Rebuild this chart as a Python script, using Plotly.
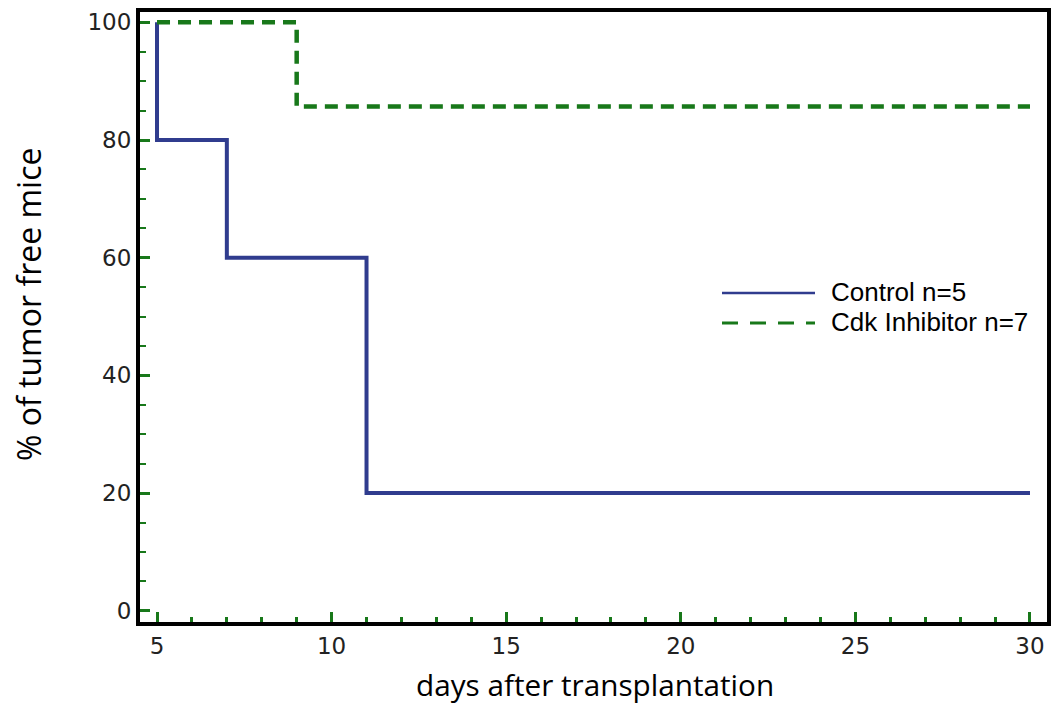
import plotly.graph_objects as go

# Data
control_days = [5, 5, 7, 11, 30]
control_pct = [100, 80, 60, 20, 20]
cdk_days = [5, 9, 30]
cdk_pct = [100, 85.7, 85.7]
series_names = ["Control n=5", "Cdk Inhibitor n=7"]
x_ticks = [5, 10, 15, 20, 25, 30]
y_ticks = [0, 20, 40, 60, 80, 100]

BLUE = "#303c8e"
GREEN = "#18781a"

fig = go.Figure()
fig.add_trace(go.Scatter(x=control_days, y=control_pct, mode="lines", line_shape="hv",
                         line=dict(color=BLUE, width=4), name=series_names[0], showlegend=False))
fig.add_trace(go.Scatter(x=cdk_days, y=cdk_pct, mode="lines", line_shape="hv",
                         line=dict(color=GREEN, width=4.5, dash="13px,8px"), name=series_names[1], showlegend=False))

L, R, T, B = 140, 8, 12, 82
W, H = 1055, 704
pw, ph = W - L - R, H - T - B

def px_x(p):
    return (p - L) / pw

def px_y(p):
    return (H - B - p) / ph

# manual legend
fig.add_shape(type="line", xref="paper", yref="paper", x0=px_x(722), x1=px_x(815), y0=px_y(293), y1=px_y(293),
              line=dict(color=BLUE, width=2.5))
fig.add_shape(type="line", xref="paper", yref="paper", x0=px_x(722), x1=px_x(815), y0=px_y(323), y1=px_y(323),
              line=dict(color=GREEN, width=3, dash="16px,12px"))
for name, py in zip(series_names, [292, 322]):
    fig.add_annotation(xref="paper", yref="paper", x=px_x(829), y=px_y(py), text=name, showarrow=False,
                       xanchor="left", yanchor="middle",
                       font=dict(family="Liberation Sans, Arial", size=26, color="black"))

# axis titles
fig.add_annotation(xref="paper", yref="paper", x=px_x(595), y=px_y(684), text="days after transplantation",
                   showarrow=False, xanchor="center", yanchor="middle",
                   font=dict(family="Open Sans", size=29.7, color="black"))
fig.add_annotation(xref="paper", yref="paper", x=px_x(28), y=px_y(305), text="% of tumor free mice",
                   showarrow=False, xanchor="center", yanchor="middle", textangle=-90,
                   font=dict(family="Open Sans", size=32, color="black"))

axis_common = dict(showgrid=False, zeroline=False, showline=True, linecolor="black", linewidth=4, mirror=True,
                   ticks="inside", tickcolor=GREEN, tickwidth=3, ticklen=10, automargin=False,
                   tickfont=dict(family="DejaVu Sans", size=23, color="#222"))

fig.update_xaxes(range=[4.513, 30.487], tickvals=x_ticks, ticktext=[str(v) for v in x_ticks],
                 minor=dict(dtick=1, tick0=0, ticks="inside", ticklen=5, tickcolor=GREEN, tickwidth=3, showgrid=False),
                 **axis_common)
fig.update_yaxes(range=[-1.9, 101.75], tickvals=y_ticks, ticktext=[str(v) for v in y_ticks],
                 minor=dict(dtick=5, tick0=0, ticks="inside", ticklen=6, tickcolor=GREEN, tickwidth=2, showgrid=False),
                 **axis_common)

fig.update_layout(width=W, height=H, margin=dict(l=L, r=R, t=T, b=B, pad=0),
                  plot_bgcolor="white", paper_bgcolor="white", showlegend=False)

fig.write_html("out.html", config={"displayModeBar": False},
               post_script="document.body.style.margin='0';document.body.style.overflow='hidden';")
